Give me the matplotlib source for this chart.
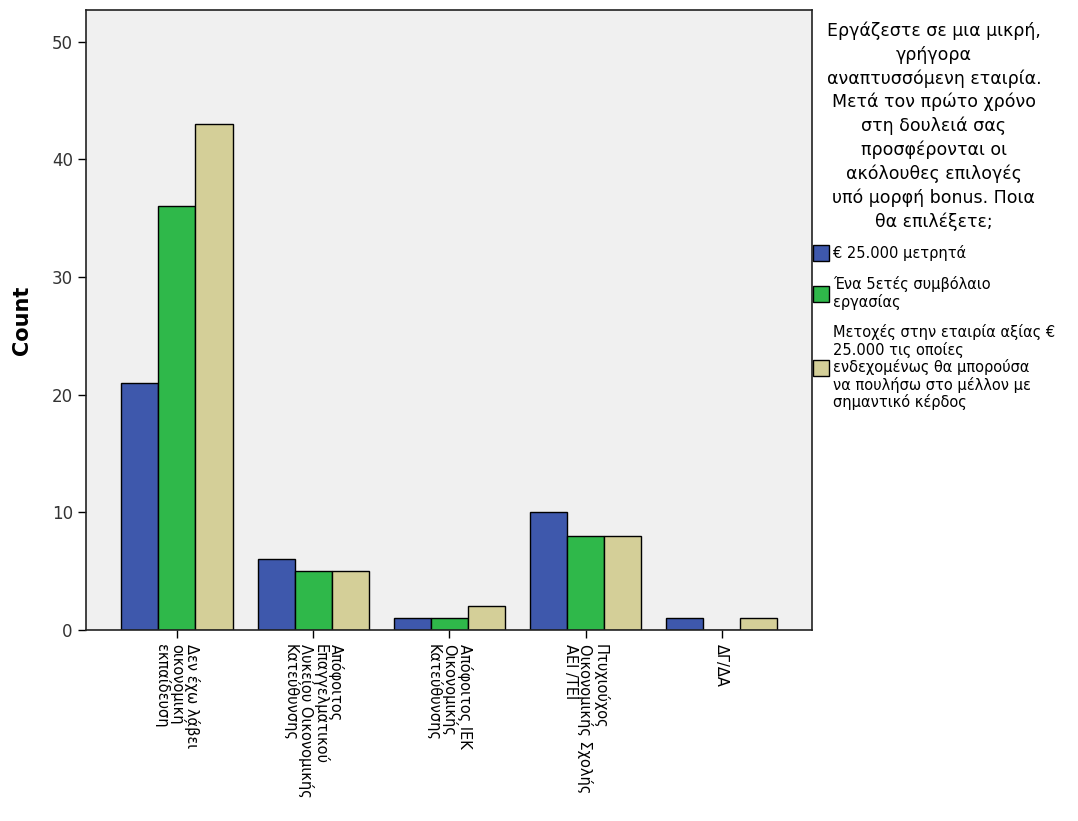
import matplotlib
matplotlib.use("Agg")
import matplotlib.pyplot as plt
import numpy as np
from matplotlib.patches import Patch

categories = [
    "Δεν έχω λάβει\nοικονομική\nεκπαίδευση",
    "Απόφοιτος\nΕπαγγελματικού\nΛυκείου Οικονομικής\nΚατεύθυνσης",
    "Απόφοιτος ΙΕΚ\nΟικονομικής\nΚατεύθυνσης",
    "Πτυχιούχος\nΟικονομικής Σχολής\nΑΕΙ /ΤΕΙ",
    "ΔΓ/ΔΑ",
]
series_names = [
    "€ 25.000 μετρητά",
    "Ένα 5ετές συμβόλαιο\nεργασίας",
    "Μετοχές στην εταιρία αξίας €\n25.000 τις οποίες\nενδεχομένως θα μπορούσα\nνα πουλήσω στο μέλλον με\nσημαντικό κέρδος",
]
cash = [21, 6, 1, 10, 1]
contract = [36, 5, 1, 8, 0]
shares = [43, 5, 2, 8, 1]
legend_title = ("Εργάζεστε σε μια μικρή,\nγρήγορα\nαναπτυσσόμενη εταιρία.\n"
                "Μετά τον πρώτο χρόνο\nστη δουλειά σας\nπροσφέρονται οι\n"
                "ακόλουθες επιλογές\nυπό μορφή bonus. Ποια\nθα επιλέξετε;")
colors = ["#3e58ac", "#2fb84a", "#d4cf98"]

plt.rcParams['font.family'] = ['DejaVu Sans']

fig = plt.figure(figsize=(10.78, 8.21), dpi=100)
ax = fig.add_axes([86/1078, 1-630/821, (812-86)/1078, (630-10)/821])
ax.set_facecolor("#f0f0f0")

x = np.arange(len(categories))
w = 0.2717
for i, (vals, c) in enumerate(zip([cash, contract, shares], colors)):
    ax.bar(x + (i-1)*w, vals, width=w, color=c, edgecolor="black", linewidth=1.0, zorder=2)

ax.set_xlim(-0.668, 4.662)
ax.set_ylim(0, 52.7)
ax.set_yticks([0, 10, 20, 30, 40, 50])
ax.tick_params(axis='y', labelsize=12, labelcolor="#333333", length=6, width=1, direction='out')
ax.set_xticks(x)
ax.set_xticklabels([])
ax.tick_params(axis='x', length=6, width=1, direction='out')
for s in ax.spines.values():
    s.set_linewidth(1.2)
    s.set_color("#222222")

for xi, lab in zip(x, categories):
    ax.text(xi, -1.2, lab, rotation=-90, ha='center', va='top', multialignment='left',
            fontsize=10.5, transform=ax.transData, clip_on=False, linespacing=0.95)

ax.set_ylabel("Count", fontsize=15, fontweight='bold', labelpad=14)

handles = [Patch(facecolor=c, edgecolor='black', linewidth=1.0) for c in colors]
leg = fig.legend(handles, series_names, title=legend_title, loc='upper left',
                 bbox_to_anchor=(813/1078, 1-22/821), frameon=False,
                 borderpad=0, borderaxespad=0, handlelength=1.1, handleheight=1.3,
                 handletextpad=0.25, labelspacing=1.0, fontsize=10.5,
                 title_fontsize=12.5)
leg.get_title().set_multialignment('center')
leg.get_title().set_linespacing(1.37)
for t in leg.get_texts():
    t.set_linespacing(1.12)

fig.savefig("out.png", dpi=100, facecolor="white")
